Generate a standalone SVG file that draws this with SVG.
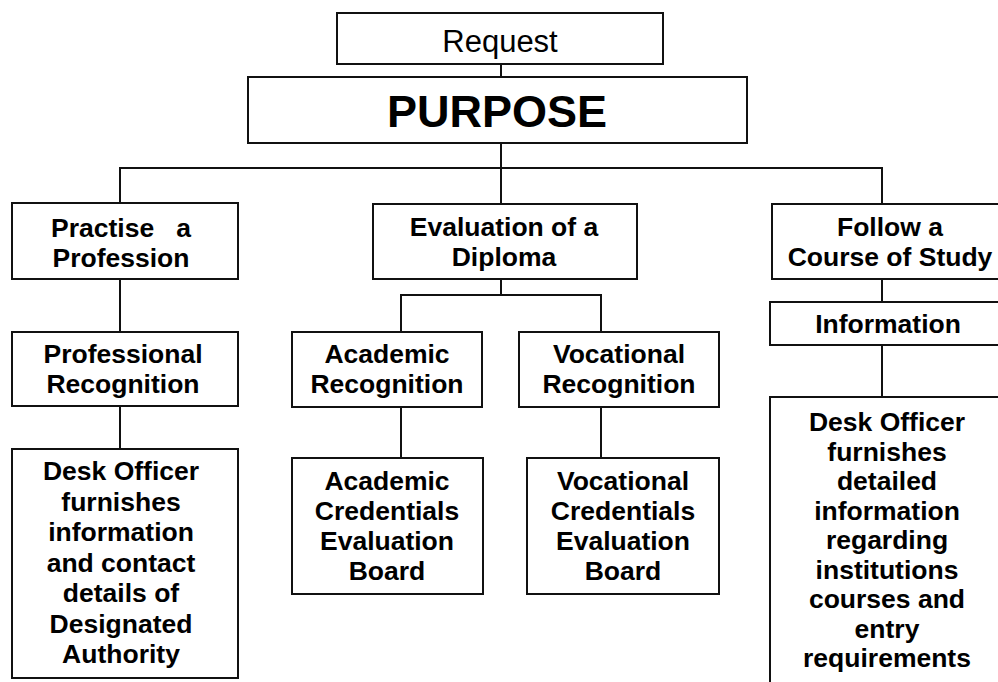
<svg xmlns="http://www.w3.org/2000/svg" width="998" height="682" viewBox="0 0 998 682">
<style>
.box{fill:#fff;stroke:#111;stroke-width:2}
.con line,.con path{stroke:#111;stroke-width:2;fill:none}
text{font-family:"Liberation Sans",Arial,sans-serif;fill:#000;text-anchor:middle}
.b{font-weight:bold;font-size:26.5px}
</style>
<rect width="998" height="682" fill="#fff"/>
<g class="con" id="connectors">
<line x1="501" y1="64" x2="501" y2="77"/>
<line x1="501" y1="143" x2="501" y2="204"/>
<path d="M120 203V168H882V204"/>
<line x1="120" y1="279" x2="120" y2="332"/>
<line x1="120" y1="406" x2="120" y2="449"/>
<path d="M501 279V295"/>
<path d="M401 332V295H601V332"/>
<line x1="401" y1="407" x2="401" y2="458"/>
<line x1="601" y1="407" x2="601" y2="458"/>
<line x1="882" y1="279" x2="882" y2="302"/>
<line x1="882" y1="345" x2="882" y2="397"/>
</g>
<g id="request"><rect class="box" x="337" y="13" width="326" height="51"/><text x="500" y="52" font-size="31">Request</text></g>
<g id="purpose"><rect class="box" x="248" y="77" width="499" height="66"/><text x="497" y="127" font-size="45" font-weight="bold">PURPOSE</text></g>
<g id="practise"><rect class="box" x="12" y="203" width="226" height="76"/><text class="b" x="121" y="237" xml:space="preserve">Practise   a</text><text class="b" x="121" y="267">Profession</text></g>
<g id="evaluation"><rect class="box" x="373" y="204" width="264" height="75"/><text class="b" x="504" y="236">Evaluation of a</text><text class="b" x="504" y="266">Diploma</text></g>
<g id="follow"><rect class="box" x="772" y="204" width="240" height="75"/><text class="b" x="890" y="236">Follow a</text><text class="b" x="890" y="266">Course of Study</text></g>
<g id="professional"><rect class="box" x="12" y="332" width="226" height="74"/><text class="b" x="123" y="363">Professional</text><text class="b" x="123" y="393">Recognition</text></g>
<g id="academic"><rect class="box" x="292" y="332" width="190" height="75"/><text class="b" x="387" y="363">Academic</text><text class="b" x="387" y="393">Recognition</text></g>
<g id="vocational"><rect class="box" x="519" y="332" width="200" height="75"/><text class="b" x="619" y="363">Vocational</text><text class="b" x="619" y="393">Recognition</text></g>
<g id="information"><rect class="box" x="770" y="302" width="242" height="43"/><text class="b" x="888" y="333">Information</text></g>
<g id="desk-left"><rect class="box" x="12" y="449" width="226" height="229"/>
<text class="b" x="121" y="480">Desk Officer</text>
<text class="b" x="121" y="510.5">furnishes</text>
<text class="b" x="121" y="541">information</text>
<text class="b" x="121" y="571.5">and contact</text>
<text class="b" x="121" y="602">details of</text>
<text class="b" x="121" y="632.5">Designated</text>
<text class="b" x="121" y="663">Authority</text>
</g>
<g id="academic-board"><rect class="box" x="292" y="458" width="191" height="136"/>
<text class="b" x="387" y="490">Academic</text>
<text class="b" x="387" y="520">Credentials</text>
<text class="b" x="387" y="550">Evaluation</text>
<text class="b" x="387" y="580">Board</text>
</g>
<g id="vocational-board"><rect class="box" x="527" y="458" width="192" height="136"/>
<text class="b" x="623" y="490">Vocational</text>
<text class="b" x="623" y="520">Credentials</text>
<text class="b" x="623" y="550">Evaluation</text>
<text class="b" x="623" y="580">Board</text>
</g>
<g id="desk-right"><rect class="box" x="770" y="397" width="242" height="300"/>
<text class="b" x="887" y="431">Desk Officer</text>
<text class="b" x="887" y="460.5">furnishes</text>
<text class="b" x="887" y="490">detailed</text>
<text class="b" x="887" y="519.5">information</text>
<text class="b" x="887" y="549">regarding</text>
<text class="b" x="887" y="578.5">institutions</text>
<text class="b" x="887" y="608">courses and</text>
<text class="b" x="887" y="637.5">entry</text>
<text class="b" x="887" y="667">requirements</text>
</g>
</svg>
